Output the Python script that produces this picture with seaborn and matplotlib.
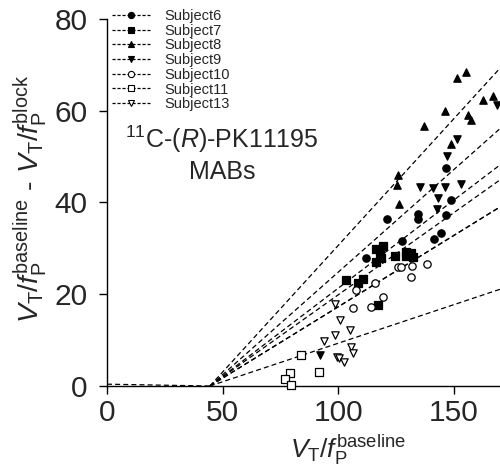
import matplotlib
matplotlib.use('Agg')
import matplotlib.pyplot as plt
from matplotlib.lines import Line2D
import seaborn as sns
import numpy as np

# data
subjects = ['Subject6', 'Subject7', 'Subject8', 'Subject9', 'Subject10', 'Subject11', 'Subject13']

s6_x = [146.8, 149.0, 134.5, 134.5, 121.1, 146.5, 144.6, 141.3, 127.6, 112.2]
s6_y = [47.5, 40.5, 37.6, 36.5, 36.4, 37.3, 33.3, 32.0, 31.7, 28.0]

s7_x = [119.4, 116.5, 118.0, 118.7, 116.2, 124.5, 129.5, 131.7, 132.4, 129.5, 103.3, 108.6, 110.8, 117.2]
s7_y = [30.6, 29.9, 28.9, 28.0, 27.1, 28.4, 29.3, 29.1, 28.2, 28.3, 23.0, 22.5, 23.3, 17.7]

s8_x = [155.4, 151.5, 146.4, 137.1, 162.6, 166.9, 156.1, 157.3, 149.0, 125.9, 125.6, 126.2]
s8_y = [68.5, 67.1, 59.9, 56.7, 62.3, 63.2, 59.1, 58.0, 52.8, 46.0, 43.8, 39.6]

s9_x = [168.7, 151.4, 147.1, 146.1, 153.3, 135.3, 141.0, 143.2, 142.9, 92.0]
s9_y = [61.3, 53.8, 50.1, 43.4, 44.0, 43.4, 43.1, 40.9, 38.5, 6.8]

s10_x = [125.9, 127.3, 132.1, 138.4, 131.4, 115.8, 107.9, 119.4, 114.0, 106.4]
s10_y = [26.0, 25.9, 26.2, 26.6, 23.7, 22.4, 20.9, 19.3, 17.3, 17.0]

s11_x = [84.1, 91.8, 79.1, 76.9, 79.8]
s11_y = [6.8, 3.1, 2.9, 1.5, 0.2]

s13_x = [98.8, 100.7, 105.0, 98.8, 93.8, 105.4, 106.2, 99.3, 100.4, 102.5]
s13_y = [17.9, 14.4, 12.2, 11.1, 9.9, 8.4, 7.3, 6.4, 6.0, 5.3]

# fitted lines: common x-intercept (VND) and slope (occupancy) per subject
vnd = 44.5
slopes = [0.384, 0.358, 0.552, 0.447, 0.311, 0.168, 0.311]
left_y0 = 0.4
x_end = 175

xs = [s6_x, s7_x, s8_x, s9_x, s10_x, s11_x, s13_x]
ys = [s6_y, s7_y, s8_y, s9_y, s10_y, s11_y, s13_y]
markers = ['o', 's', '^', 'v', 'o', 's', 'v']
filled = [True, True, True, True, False, False, False]

sns.set_style('ticks')
plt.rcParams['font.family'] = ['Liberation Sans', 'DejaVu Sans']
plt.rcParams['mathtext.fontset'] = 'custom'
plt.rcParams['mathtext.rm'] = 'Liberation Sans'
plt.rcParams['mathtext.it'] = 'Liberation Sans:italic'
plt.rcParams['mathtext.bf'] = 'Liberation Sans:bold'

fig = plt.figure(figsize=(5, 4.7), dpi=100)
ax = fig.add_axes([0.214, 0.1787, 0.786, 0.7809])

dash = (0, (4, 2.5))
for s in slopes:
    sns.lineplot(x=[vnd, x_end], y=[0, s * (x_end - vnd)], color='k', lw=0.9, ls=dash, ax=ax)
sns.lineplot(x=[0, vnd], y=[left_y0, 0], color='k', lw=0.9, ls=dash, ax=ax)

handles = []
for x, y, m, f, name in zip(xs, ys, markers, filled, subjects):
    fc = 'black' if f else 'white'
    sns.scatterplot(x=x, y=y, marker=m, s=28, facecolor=fc, edgecolor='black',
                    linewidth=0.9, ax=ax, zorder=3, clip_on=False)
    handles.append(Line2D([], [], color='k', ls=(0, (2.5, 1.5)), lw=0.9, marker=m,
                          markersize=4.5, markerfacecolor=fc, markeredgecolor='k',
                          markeredgewidth=0.8, label=name))

ax.set_xlim(0, 170)
ax.set_ylim(0, 80)
ax.set_xticks([0, 50, 100, 150])
ax.set_yticks([0, 20, 40, 60, 80])
ax.tick_params(direction='out', length=6, width=1, labelsize=21.5, color='k')
ax.tick_params(axis='x', pad=3)
ax.tick_params(axis='y', pad=8)
for sp in ['top', 'right']:
    ax.spines[sp].set_visible(False)
for sp in ['left', 'bottom']:
    ax.spines[sp].set_linewidth(1)
    ax.spines[sp].set_color('k')

ax.set_xlabel(r'$V_\mathrm{T}/f_\mathrm{P}^{\mathrm{baseline}}$', fontsize=19)
ax.xaxis.set_label_coords(0.613, -0.128)
ax.xaxis.label.set_va('top')
ax.set_ylabel(r'$V_\mathrm{T}/f_\mathrm{P}^{\mathrm{baseline}}$ - $V_\mathrm{T}/f_\mathrm{P}^{\mathrm{block}}$', fontsize=20.5)
ax.yaxis.set_label_coords(-0.148, 0.511)

ax.text(49.7, 51.9, r'$^{11}$C-($R$)-PK11195', fontsize=18, ha='center', va='baseline')
ax.text(50.0, 45.1, 'MABs', fontsize=18, ha='center', va='baseline')

fig.legend(handles=handles, loc='upper left', bbox_to_anchor=(0.224, 0.981),
           frameon=False, fontsize=10.5, labelspacing=0.05, handlelength=2.6,
           handletextpad=1.0, borderpad=0, borderaxespad=0)

fig.savefig('out.png', dpi=100)
